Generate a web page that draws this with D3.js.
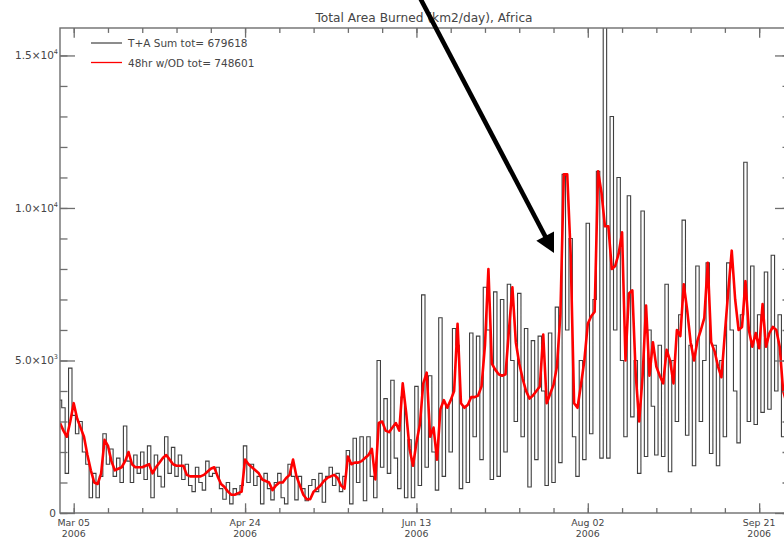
<!DOCTYPE html>
<html>
<head>
<meta charset="utf-8">
<script src="https://cdn.jsdelivr.net/npm/d3@7"></script>
<style>
  body { margin: 0; background: #fff; }
  svg { display: block; }
  text { font-family: "DejaVu Sans", "Liberation Sans", sans-serif; fill: #454545; }
</style>
</head>
<body>
<svg id="chart" width="784" height="540"></svg>
<script>
// Daily burned area, Africa, 1 Mar 2006 .. 30 Sep 2006 (km2/day)
const startDate = "2006-03-01";
const endDate = "2006-09-30";

// Terra + Aqua sum
const tpaSum = [
  3700,3450,1300,4750,3200,2600,3000,2000,1600,500,
  1300,500,1200,2600,1600,2100,1200,1800,1000,2850,
  1700,1000,1900,1300,2000,1100,2200,500,1900,1200,
  850,2500,1300,2150,1200,1900,1100,1600,900,700,
  1500,1000,750,1700,1200,1300,1500,800,450,1000,
  300,800,600,900,2200,1000,1600,900,1200,300,
  1300,800,430,1000,1300,500,300,1600,1200,430,
  1200,800,400,900,1100,700,1300,350,1200,1500,
  900,1300,700,1200,2050,300,2450,1000,2500,400,
  2500,1200,500,5000,1500,3750,1300,4350,1800,800,
  3800,500,2400,500,4150,900,7150,1500,4500,2000,
  750,6400,1200,3500,2000,6050,5500,800,3500,1000,
  5900,2500,5800,1750,7400,6000,1100,7250,1200,7000,
  2000,7500,5000,3000,7200,2500,6050,850,5650,1750,
  5800,4000,900,5900,1000,6750,1650,11100,6000,9000,
  2500,1200,5000,1750,9500,2600,7000,11200,1800,16500,
  1800,13000,6000,11000,5000,2500,10400,3150,5000,1300,
  9900,1850,6000,3500,1900,5500,1850,7500,1350,5000,
  3000,6500,9600,2550,5500,1550,8100,3000,5000,8200,
  1950,5500,1550,5000,2500,8200,6000,4000,2300,6500,
  11500,3000,8100,2900,6500,3300,7900,3400,8450,4000,
  6500,2500,5000,3500
];

// 48 hr product with OD
const hr48 = [
  2950,2700,2500,3000,3600,3100,2800,2500,1900,1400,
  1000,950,1300,2400,2200,1700,1400,1450,1500,1700,
  2000,1600,1500,1500,1500,1550,1600,1300,1500,1650,
  1800,1900,1750,1600,1550,1550,1550,1250,1200,1200,
  1200,1200,1250,1350,1450,1500,1200,950,850,700,
  600,600,650,700,1750,1600,1500,1400,1300,1100,
  1050,1000,750,900,1000,1000,1150,1250,1750,1200,
  900,600,450,450,700,800,900,1050,1150,1200,
  1250,1150,900,800,1850,1600,1650,1650,1700,1800,
  1900,2100,1100,2950,3000,2700,2650,2800,2950,2700,
  4250,3300,2100,1550,2300,2900,4250,4600,2500,2800,
  1750,3400,3700,3450,3700,4000,6200,3600,3450,3550,
  3800,3800,3850,4150,5500,8000,4900,4700,4550,4500,
  4550,6000,7400,5600,4900,4400,4000,3750,3850,4000,
  4150,5850,3600,3900,4200,4800,6500,11100,11100,8500,
  3600,3450,4200,5000,6200,6450,6600,11200,10500,9400,
  9400,8000,8100,8500,9200,5000,7200,7300,4500,3000,
  4500,6800,4500,5600,4800,4500,4250,5350,5000,4250,
  6000,5800,7500,6650,5600,5000,5650,6000,6400,8200,
  5600,5300,4800,4450,5900,7300,8600,7000,6000,6100,
  7600,6000,5450,5900,5400,6850,5450,5900,6100,6000,
  5450,4000,3600,3500
];

const majorTickDates = ["2006-03-05", "2006-04-24", "2006-06-13", "2006-08-02", "2006-09-21"];
const majorTickLabels = [["Mar 05", "2006"], ["Apr 24", "2006"], ["Jun 13", "2006"], ["Aug 02", "2006"], ["Sep 21", "2006"]];
const yTickValues = [0, 5000, 10000, 15000];
const yTickLabels = [["0", ""], ["5.0×10", "3"], ["1.0×10", "4"], ["1.5×10", "4"]];
const legendLabels = ["T+A Sum tot= 679618", "48hr w/OD tot= 748601"];
const chartTitle = "Total Area Burned (km2/day), Africa";

// ---- layout ----
const plot = { left: 60, right: 790, top: 28, bottom: 513 };
const axisColor = "#6e6e6e";

const svg = d3.select("#chart");
const parse = d3.utcParse("%Y-%m-%d");
const t0 = parse(startDate), t1 = parse(endDate);

const x = d3.scaleUtc().domain([t0, t1]).range([plot.left, plot.right]);
const y = d3.scaleLinear().domain([0, 15900]).range([plot.bottom, plot.top]);

const dates = tpaSum.map((_, i) => d3.utcDay.offset(t0, i));
const majorTicks = majorTickDates.map(parse);
const minorTicks = d3.utcDay.range(parse("2006-03-05"), d3.utcDay.offset(t1, 1), 1)
  .filter((d, i) => i % 10 === 0);
const yMinor = d3.range(0, 15901, 1000);

// clip for data
svg.append("clipPath").attr("id", "plotClip")
  .append("rect")
  .attr("x", plot.left).attr("y", plot.top)
  .attr("width", plot.right - plot.left).attr("height", plot.bottom - plot.top);

// ---- data lines ----
const blackLine = d3.line()
  .x((d, i) => x(dates[i]))
  .y(d => y(d))
  .curve(d3.curveStep);

const redLine = d3.line()
  .x((d, i) => x(dates[i]))
  .y(d => y(d));

const dataG = svg.append("g").attr("clip-path", "url(#plotClip)");
dataG.append("path")
  .datum(tpaSum)
  .attr("d", blackLine)
  .attr("fill", "none")
  .attr("stroke", "#2a2a2a")
  .attr("stroke-opacity", 0.9)
  .attr("stroke-width", 1.1);

dataG.append("path")
  .datum(hr48)
  .attr("d", redLine)
  .attr("fill", "none")
  .attr("stroke", "#ff0000")
  .attr("stroke-width", 2.6)
  .attr("stroke-linejoin", "round");

// ---- axes ----
function styleAxis(g) {
  g.select(".domain").remove();
  g.selectAll("line").attr("stroke", axisColor).attr("stroke-width", 1.3);
  g.selectAll("text").remove();
}

const xMajLen = 9.7, xMinLen = 4.9, yMajLen = 15, yMinLen = 7.5;

svg.append("g").attr("transform", `translate(0,${plot.bottom})`)
  .call(d3.axisBottom(x).tickValues(minorTicks).tickSizeInner(-xMinLen).tickSizeOuter(0)).call(styleAxis);
svg.append("g").attr("transform", `translate(0,${plot.bottom})`)
  .call(d3.axisBottom(x).tickValues(majorTicks).tickSizeInner(-xMajLen).tickSizeOuter(0)).call(styleAxis);
svg.append("g").attr("transform", `translate(0,${plot.top})`)
  .call(d3.axisTop(x).tickValues(minorTicks).tickSizeInner(-xMinLen).tickSizeOuter(0)).call(styleAxis);
svg.append("g").attr("transform", `translate(0,${plot.top})`)
  .call(d3.axisTop(x).tickValues(majorTicks).tickSizeInner(-xMajLen).tickSizeOuter(0)).call(styleAxis);

svg.append("g").attr("transform", `translate(${plot.left},0)`)
  .call(d3.axisLeft(y).tickValues(yMinor).tickSizeInner(-yMinLen).tickSizeOuter(0)).call(styleAxis);
svg.append("g").attr("transform", `translate(${plot.left},0)`)
  .call(d3.axisLeft(y).tickValues(yTickValues).tickSizeInner(-yMajLen).tickSizeOuter(0)).call(styleAxis);
svg.append("g").attr("transform", `translate(${plot.right},0)`)
  .call(d3.axisRight(y).tickValues(yMinor).tickSizeInner(-yMinLen).tickSizeOuter(0)).call(styleAxis);
svg.append("g").attr("transform", `translate(${plot.right},0)`)
  .call(d3.axisRight(y).tickValues(yTickValues).tickSizeInner(-yMajLen).tickSizeOuter(0)).call(styleAxis);

// frame
svg.append("rect")
  .attr("x", plot.left).attr("y", plot.top)
  .attr("width", plot.right - plot.left).attr("height", plot.bottom - plot.top)
  .attr("fill", "none").attr("stroke", axisColor).attr("stroke-width", 1.4);

// x tick labels: date over year
const xl = svg.append("g").attr("font-size", 9.4).attr("text-anchor", "middle");
majorTicks.forEach((d, i) => {
  xl.append("text").attr("x", x(d)).attr("y", 526).text(majorTickLabels[i][0]);
  xl.append("text").attr("x", x(d)).attr("y", 537.3).text(majorTickLabels[i][1]);
});

// y tick labels with superscript exponent
const yl = svg.append("g").attr("font-size", 10.5).attr("text-anchor", "end");
yTickValues.forEach((v, i) => {
  const t = yl.append("text").attr("x", yTickLabels[i][1] ? 58 : 56).attr("y", y(v) + 4);
  t.append("tspan").text(yTickLabels[i][0]);
  if (yTickLabels[i][1]) {
    t.append("tspan").attr("dy", -5).attr("font-size", 6.5).text(yTickLabels[i][1]);
  }
});

// title
svg.append("text")
  .attr("x", 424).attr("y", 22)
  .attr("text-anchor", "middle")
  .attr("font-size", 12.2)
  .attr("fill", "#505050")
  .text(chartTitle);

// legend
const legendColors = ["#1a1a1a", "#ff0000"];
const lg = svg.append("g").attr("font-size", 10.5);
legendLabels.forEach((lab, i) => {
  const ly = 43 + i * 19.5;
  lg.append("line").attr("x1", 91).attr("x2", 122).attr("y1", ly).attr("y2", ly)
    .attr("stroke", legendColors[i]).attr("stroke-width", i ? 1.3 : 1);
  lg.append("text").attr("x", 128).attr("y", ly + 4).text(lab);
});

// annotation arrow
const tip = [554, 253], tail = [418, -6];
const dx = tip[0] - tail[0], dy = tip[1] - tail[1];
const len = Math.hypot(dx, dy);
const ux = dx / len, uy = dy / len;
const headLen = 19, headHalf = 10;
const base = [tip[0] - ux * headLen, tip[1] - uy * headLen];
svg.append("line")
  .attr("x1", tail[0]).attr("y1", tail[1])
  .attr("x2", base[0] + ux * 2).attr("y2", base[1] + uy * 2)
  .attr("stroke", "#000").attr("stroke-width", 4.6);
svg.append("path")
  .attr("d", `M${tip[0]},${tip[1]}L${base[0] - uy * headHalf},${base[1] + ux * headHalf}L${base[0] + uy * headHalf},${base[1] - ux * headHalf}Z`)
  .attr("fill", "#000");
</script>
</body>
</html>
